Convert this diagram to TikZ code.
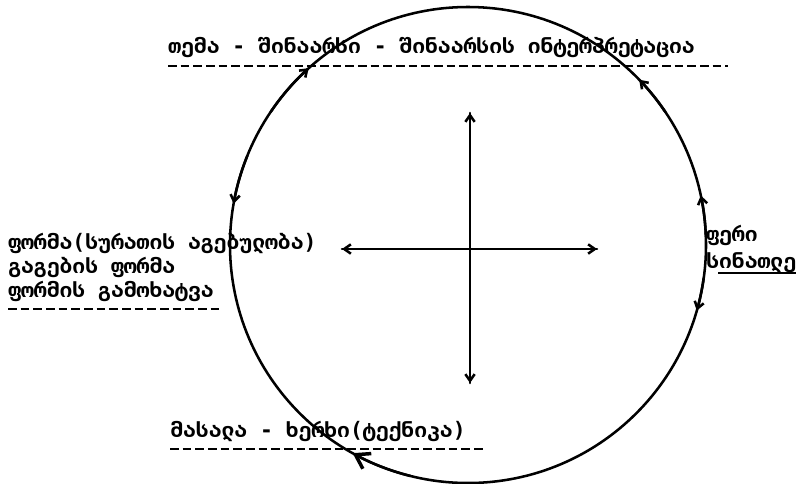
\documentclass[tikz,border=0pt]{standalone}
\usepackage{fontspec}
\usetikzlibrary{arrows.meta}
\newfontfamily\geo{DejaVu Sans Mono}

\begin{document}
\begin{tikzpicture}[x=0.75pt,y=-0.75pt,>={Straight Barb[length=5pt,width=7pt]},
  lbl/.style={font=\geo\bfseries\fontsize{16}{20}\selectfont,anchor=base west,inner sep=0pt},
  dashrule/.style={line width=2.2pt,dash pattern=on 6.5pt off 3pt},
  pen/.style={line width=1.9pt,line cap=round}]
\useasboundingbox (0,0) rectangle (799,483);
\coordinate (o) at (468,245);
\coordinate (axt) at (470,113);
\coordinate (axb) at (470,383);
\coordinate (axl) at (342,249);
\coordinate (axr) at (597,249);
\draw[pen] (o) circle[radius=238];
\draw[pen,->] (axt)--(axb);
\draw[pen,->] (axb)--(axt);
\draw[pen,->] (axr)--(axl);
\draw[pen,->] (axl)--(axr);
\draw[pen,->] (o) ++(214:238) arc[start angle=214,end angle=228,radius=238];
\draw[pen,->] (o) ++(202:238) arc[start angle=202,end angle=190,radius=238];
\draw[pen,->,>={Straight Barb[length=10pt,width=13pt,line width=2.6pt]}] (o) ++(104:238) arc[start angle=104,end angle=119,radius=238];
\draw[pen,->] (o) ++(326:238) arc[start angle=326,end angle=316,radius=238];
\draw[pen,->] (o) ++(358:238) arc[start angle=358,end angle=348,radius=238];
\draw[pen,->] (o) ++(8:238) arc[start angle=8,end angle=16,radius=238];
\node[lbl] (tema) at (168,53) {თემა - შინაარსი - შინაარსის ინტერპრეტაცია};
\draw[dashrule] (tema.base west)++(0,13)--++(560,0);
\node[lbl] (forma) at (8,249) {ფორმა(სურათის აგებულობა)};
\node[lbl] (gageba) at (8,273) {გაგების ფორმა};
\node[lbl] (gamoxatva) at (8,297) {ფორმის გამოხატვა};
\draw[dashrule] (gamoxatva.base west)++(0,12)--++(214,0);
\node[lbl] (peri) at (706,241) {ფერი};
\node[lbl] (sinatle) at (706,268) {სინათლე};
\draw[line width=1.4pt] (sinatle.base west)++(12,5)--(sinatle.base east|-0,273);
\node[lbl] (masala) at (170,437) {მასალა - ხერხი(ტექნიკა)};
\draw[dashrule] (masala.base west)++(0,12)--++(316,0);
\end{tikzpicture}
\end{document}
